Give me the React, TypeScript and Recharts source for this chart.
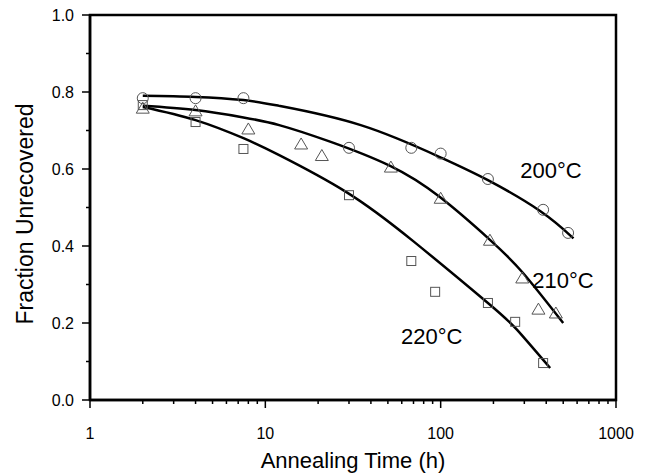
import {
  ComposedChart,
  Line,
  Scatter,
  XAxis,
  YAxis,
  ReferenceArea,
  ReferenceDot,
  Label,
} from "recharts";

// measured points (annealing time h, fraction unrecovered)
const circles200 = [
  { t: 2, f: 0.784 },
  { t: 4, f: 0.784 },
  { t: 7.5, f: 0.784 },
  { t: 30, f: 0.655 },
  { t: 68, f: 0.655 },
  { t: 100, f: 0.64 },
  { t: 186, f: 0.574 },
  { t: 384, f: 0.494 },
  { t: 533, f: 0.434 },
];

const triangles210 = [
  { t: 2, f: 0.758 },
  { t: 4, f: 0.751 },
  { t: 8, f: 0.704 },
  { t: 16, f: 0.665 },
  { t: 21, f: 0.635 },
  { t: 52, f: 0.605 },
  { t: 100, f: 0.524 },
  { t: 191, f: 0.415 },
  { t: 292, f: 0.317 },
  { t: 361, f: 0.236 },
  { t: 454, f: 0.226 },
];

const squares220 = [
  { t: 2, f: 0.766 },
  { t: 4, f: 0.722 },
  { t: 7.5, f: 0.652 },
  { t: 30, f: 0.532 },
  { t: 68, f: 0.361 },
  { t: 93, f: 0.281 },
  { t: 186, f: 0.252 },
  { t: 266, f: 0.203 },
  { t: 384, f: 0.096 },
];

// fitted curves
const fit200 = [
  { t: 2, f: 0.79 },
  { t: 4, f: 0.787 },
  { t: 7.5, f: 0.779 },
  { t: 12, f: 0.764 },
  { t: 35, f: 0.714 },
  { t: 99, f: 0.631 },
  { t: 186, f: 0.571 },
  { t: 369, f: 0.491 },
  { t: 572, f: 0.42 },
];

const fit210 = [
  { t: 2, f: 0.764 },
  { t: 4, f: 0.753 },
  { t: 7.5, f: 0.734 },
  { t: 12, f: 0.714 },
  { t: 23.4, f: 0.671 },
  { t: 51.5, f: 0.608 },
  { t: 99, f: 0.527 },
  { t: 191, f: 0.416 },
  { t: 295, f: 0.33 },
  { t: 500, f: 0.2 },
];

const fit220 = [
  { t: 2, f: 0.761 },
  { t: 4, f: 0.727 },
  { t: 7.5, f: 0.68 },
  { t: 12, f: 0.636 },
  { t: 29, f: 0.54 },
  { t: 70, f: 0.412 },
  { t: 186, f: 0.252 },
  { t: 273, f: 0.182 },
  { t: 421, f: 0.083 },
];

const xTicks = [
  1, 2, 3, 4, 5, 6, 7, 8, 9, 10, 20, 30, 40, 50, 60, 70, 80, 90, 100, 200, 300,
  400, 500, 600, 700, 800, 900, 1000,
];
const xMajor = [1, 10, 100, 1000];
const yTicks = [0, 0.1, 0.2, 0.3, 0.4, 0.5, 0.6, 0.7, 0.8, 0.9, 1];

const FONT = "'Liberation Sans', Arial, sans-serif";
const MARK = "#555";

const XTick = ({ x, y, payload }: any) => {
  const major = xMajor.includes(payload.value);
  return (
    <g>
      <line x1={x} x2={x} y1={y} y2={y + (major ? 8 : 4)} stroke="#000" strokeWidth={1.5} />
      {major && (
        <text x={x} y={y + 39} textAnchor="middle" fontSize={16} fontFamily={FONT} fill="#000">
          {payload.value}
        </text>
      )}
    </g>
  );
};

const YTick = ({ x, y, payload }: any) => {
  const major = Math.round(payload.value * 10) % 2 === 0;
  return (
    <g>
      <line x1={x - (major ? 8 : 4)} x2={x} y1={y} y2={y} stroke="#000" strokeWidth={1.5} />
      {major && (
        <text x={x - 16} y={y + 6} textAnchor="end" fontSize={16} fontFamily={FONT} fill="#000">
          {payload.value.toFixed(1)}
        </text>
      )}
    </g>
  );
};

const CircleMark = ({ cx, cy }: any) => (
  <circle cx={cx} cy={cy} r={5.5} fill="none" stroke={MARK} strokeWidth={1} />
);

const TriangleMark = ({ cx, cy }: any) => (
  <polygon
    points={`${cx},${cy - 6} ${cx - 6.5},${cy + 5} ${cx + 6.5},${cy + 5}`}
    fill="none"
    stroke={MARK}
    strokeWidth={1}
  />
);

const SquareMark = ({ cx, cy }: any) => (
  <rect x={cx - 4.5} y={cy - 4.5} width={9} height={9} fill="none" stroke={MARK} strokeWidth={1} />
);

const tempLabel = (value: string) => ({
  value,
  position: "center" as const,
  fontSize: 22,
  fontFamily: FONT,
  fill: "#000",
});

export default function App() {
  return (
    <ComposedChart
      width={640}
      height={467}
      margin={{ top: 7, right: 32, bottom: 2, left: 0 }}
      style={{ fontFamily: FONT }}
    >
      <XAxis
        dataKey="t"
        type="number"
        scale="log"
        domain={[1, 1000]}
        ticks={xTicks}
        interval={0}
        allowDataOverflow
        height={73}
        tickSize={0}
        tickMargin={0}
        tick={<XTick />}
        axisLine={{ stroke: "#000", strokeWidth: 2.5 }}
      >
        <Label
          content={() => (
            <text x={345} y={460} textAnchor="middle" fontSize={22} fontFamily={FONT} fill="#000">
              Annealing Time (h)
            </text>
          )}
        />
      </XAxis>
      <YAxis
        dataKey="f"
        type="number"
        domain={[0, 1]}
        ticks={yTicks}
        interval={0}
        width={82}
        tickSize={0}
        tickMargin={0}
        tick={<YTick />}
        axisLine={{ stroke: "#000", strokeWidth: 2.5 }}
      >
        <Label
          content={() => (
            <text
              x={25}
              y={206}
              textAnchor="middle"
              fontSize={23}
              fontFamily={FONT}
              fill="#000"
              transform="rotate(-90 25 206)"
            >
              Fraction Unrecovered
            </text>
          )}
        />
      </YAxis>

      <ReferenceArea x1={1} x2={1000} y1={0} y2={1} fill="none" stroke="#000" strokeWidth={2.5} />

      <Scatter data={circles200} shape={<CircleMark />} isAnimationActive={false} />
      <Scatter data={triangles210} shape={<TriangleMark />} isAnimationActive={false} />
      <Scatter data={squares220} shape={<SquareMark />} isAnimationActive={false} />

      <Line data={fit200} dataKey="f" type="natural" stroke="#000" strokeWidth={2.5} dot={false} activeDot={false} isAnimationActive={false} />
      <Line data={fit210} dataKey="f" type="natural" stroke="#000" strokeWidth={2.5} dot={false} activeDot={false} isAnimationActive={false} />
      <Line data={fit220} dataKey="f" type="natural" stroke="#000" strokeWidth={2.5} dot={false} activeDot={false} isAnimationActive={false} />

      <ReferenceDot x={426} y={0.597} r={0} fill="none" stroke="none" label={tempLabel("200°C")} />
      <ReferenceDot x={499} y={0.312} r={0} fill="none" stroke="none" label={tempLabel("210°C")} />
      <ReferenceDot x={89} y={0.166} r={0} fill="none" stroke="none" label={tempLabel("220°C")} />
    </ComposedChart>
  );
}
